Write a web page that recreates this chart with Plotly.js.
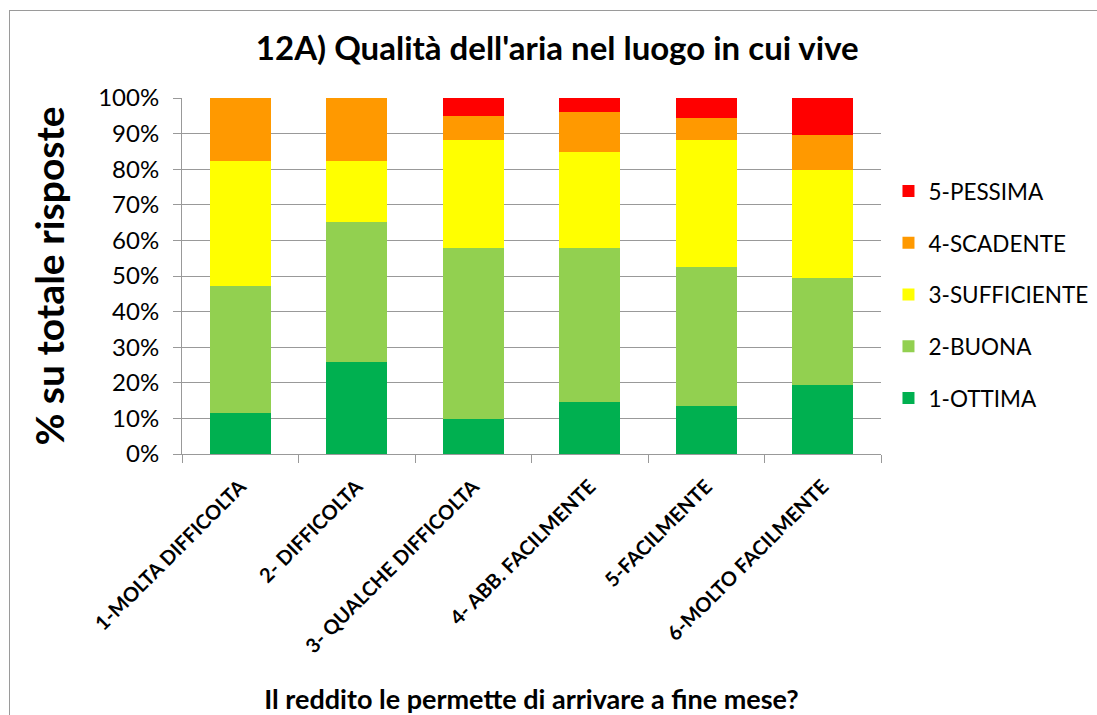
<!DOCTYPE html>
<html>
<head>
<meta charset="utf-8">
<script src="https://cdn.plot.ly/plotly-3.0.1.min.js"></script>
<style>
html,body{margin:0;padding:0;background:#fff;}
#wrap{position:relative;width:1097px;height:715px;overflow:hidden;}
#chart{width:1097px;height:715px;}
#frame{position:absolute;left:9px;top:10px;width:1200px;height:800px;border-left:1px solid #9a9a9a;border-top:1px solid #9a9a9a;pointer-events:none;}
</style>
</head>
<body>
<div id="wrap"><div id="chart"></div><div id="frame"></div></div>
<script>
var categories = ["1-MOLTA DIFFICOLTA", "2- DIFFICOLTA", "3- QUALCHE DIFFICOLTA", "4- ABB. FACILMENTE", "5-FACILMENTE", "6-MOLTO FACILMENTE"];
var ottima      = [11.6, 25.9,  9.7, 14.5, 13.4, 19.3];
var buona       = [35.6, 39.2, 48.1, 43.3, 39.0, 30.1];
var sufficiente = [35.2, 17.3, 30.5, 27.1, 35.9, 30.5];
var scadente    = [17.6, 17.6,  6.7, 11.3,  6.2,  9.8];
var pessima     = [ 0.0,  0.0,  5.0,  3.8,  5.5, 10.3];
var seriesNames = ["1-OTTIMA", "2-BUONA", "3-SUFFICIENTE", "4-SCADENTE", "5-PESSIMA"];
var seriesColors = ["#00b050", "#92d050", "#ffff00", "#ff9900", "#ff0000"];
var seriesValues = [ottima, buona, sufficiente, scadente, pessima];
var yTickVals = [0,10,20,30,40,50,60,70,80,90,100];
var yTickText = ["0%","10%","20%","30%","40%","50%","60%","70%","80%","90%","100%"];

var font = "Lato, 'Open Sans', sans-serif";
var traces = seriesValues.map(function(v, i){
  return {
    type: "bar", x: categories, y: v, name: seriesNames[i],
    legendgroup: "g" + i,
    legendrank: 10 - i,
    marker: {color: seriesColors[i], line: {width: 0}},
    hoverinfo: "y+name"
  };
});

var layout = {
  width: 1097, height: 715,
  margin: {l: 182, r: 216, t: 98, b: 261, autoexpand: false},
  paper_bgcolor: "#fff", plot_bgcolor: "#fff",
  barmode: "stack", bargap: 0.476,
  title: {text: "<b>12A) Qualità dell'aria nel luogo in cui vive</b>", x: 0.508, xanchor: "center", y: 0.932, yanchor: "middle",
          font: {family: font, size: 33, color: "#000"}},
  xaxis: {
    type: "category", tickangle: -45, tickson: "boundaries", ticks: "outside", ticklen: 8, tickcolor: "#999",
    showline: true, linecolor: "#999", linewidth: 1, showgrid: false,
    ticklabelstandoff: 12,
    tickfont: {family: font, size: 20, color: "#000", weight: "bold"},
    title: {text: "<b>Il reddito le permette di arrivare a fine mese?</b>", font: {family: font, size: 27, color: "#000"}, standoff: 40},
    automargin: false
  },
  yaxis: {
    range: [0, 100], tickvals: yTickVals, ticktext: yTickText,
    ticks: "outside", ticklen: 8, tickcolor: "#999",
    showline: true, linecolor: "#999", linewidth: 1,
    showgrid: true, gridcolor: "#999", gridwidth: 1, zeroline: false,
    ticklabelstandoff: 9,
    tickfont: {family: font, size: 24, color: "#000"},
    title: {text: "<b>% su totale risposte</b>", font: {family: font, size: 39, color: "#000"}, standoff: 21},
    automargin: false
  },
  legend: {
    x: 1.0107, xanchor: "left", y: 0.447, yanchor: "middle",
    traceorder: "grouped", tracegroupgap: 19.5,
    font: {family: font, size: 22.5, color: "#000"},
    itemwidth: 30
  },
  showlegend: true
};

Plotly.newPlot("chart", traces, layout, {displayModeBar: false, staticPlot: true});
</script>
</body>
</html>
